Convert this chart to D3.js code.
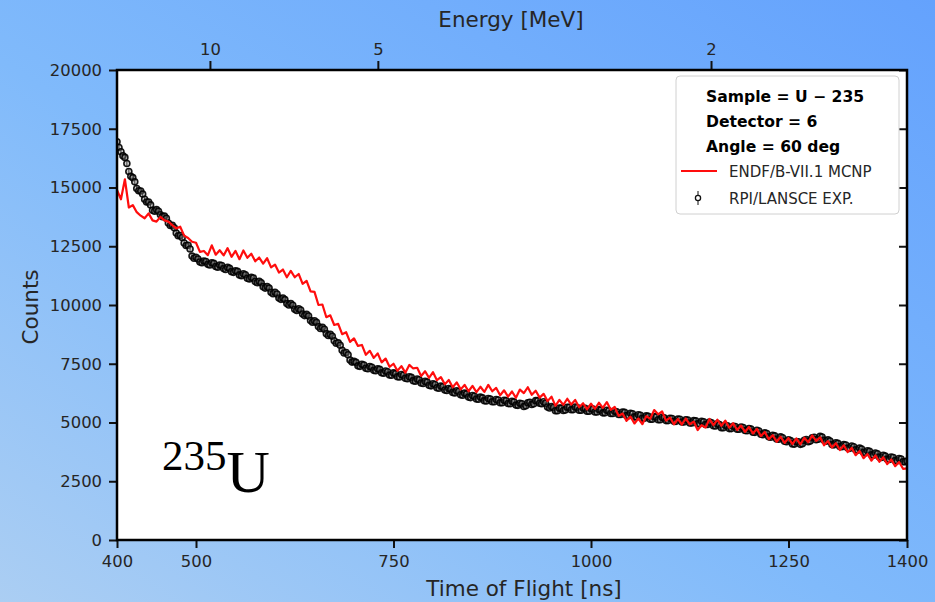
<!DOCTYPE html>
<html>
<head>
<meta charset="utf-8">
<title>U-235 TOF</title>
<script src="https://d3js.org/d3.v7.min.js"></script>
<style>
  body { margin: 0; overflow: hidden; }
  svg text { font-family: "DejaVu Sans", sans-serif; }
</style>
</head>
<body>
<svg id="chart" width="935" height="602"></svg>
<script>
// time of flight grid [ns]
const tofStart = 400, tofStep = 5;

// RPI/LANSCE experiment, counts at 400, 405, ... 1400 ns
const expCounts = [
  16950, 16520, 16280, 15680, 15420, 14960, 14850, 14500, 14380, 14030,
  14060, 13840, 13780, 13490, 13390, 13060, 12960, 12640, 12540, 12080,
  12030, 11830, 11870, 11730, 11800, 11640, 11700, 11550, 11600, 11420,
  11460, 11280, 11330, 11140, 11180, 11000, 11010, 10780, 10790, 10540,
  10540, 10300, 10300, 10060, 10060, 9820, 9840, 9620, 9600, 9340,
  9330, 9080, 9050, 8780, 8750, 8480, 8390, 8070, 7980, 7660,
  7600, 7410, 7480, 7310, 7380, 7220, 7290, 7120, 7190, 7020,
  7110, 6950, 7040, 6880, 6950, 6780, 6850, 6680, 6750, 6580,
  6650, 6480, 6550, 6380, 6450, 6280, 6350, 6180, 6250, 6080,
  6150, 6000, 6080, 5930, 6020, 5880, 5980, 5840, 5950, 5810,
  5900, 5740, 5820, 5680, 5840, 5770, 5930, 5820, 5880, 5660,
  5680, 5500, 5610, 5510, 5650, 5540, 5660, 5520, 5620, 5480,
  5590, 5450, 5550, 5410, 5520, 5380, 5480, 5340, 5450, 5300,
  5390, 5240, 5330, 5180, 5280, 5140, 5250, 5120, 5220, 5080,
  5180, 5050, 5150, 5020, 5120, 4980, 5080, 4950, 5050, 4915,
  5020, 4860, 4940, 4780, 4880, 4740, 4840, 4710, 4810, 4660,
  4740, 4590, 4670, 4500, 4560, 4390, 4460, 4300, 4390, 4200,
  4260, 4090, 4180, 4070, 4240, 4180, 4350, 4270, 4410, 4240,
  4260, 4060, 4140, 3980, 4060, 3910, 4000, 3840, 3910, 3730,
  3800, 3630, 3700, 3530, 3605, 3440, 3530, 3380, 3470, 3330,
  3360
];

// RPI/LANSCE experiment, counts at 402.5, 407.5, ... 1397.5 ns
const expCountsMid = [
  16700, 16350, 16020, 15480, 15240, 14860, 14720, 14380, 14260, 13990,
  13990, 13760, 13690, 13380, 13290, 12950, 12870, 12530, 12380, 11990,
  11960, 11800, 11850, 11700, 11770, 11610, 11680, 11510, 11560, 11390,
  11430, 11250, 11290, 11110, 11150, 10950, 10950, 10720, 10720, 10480,
  10470, 10240, 10230, 10000, 9990, 9770, 9790, 9550, 9530, 9270,
  9260, 9000, 8970, 8700, 8670, 8370, 8290, 7960, 7880, 7570,
  7560, 7390, 7450, 7290, 7350, 7200, 7260, 7100, 7160, 7010,
  7080, 6940, 7010, 6860, 6920, 6760, 6820, 6660, 6720, 6560,
  6620, 6460, 6520, 6360, 6420, 6260, 6320, 6160, 6220, 6060,
  6120, 5990, 6050, 5920, 6000, 5880, 5960, 5840, 5930, 5800,
  5870, 5730, 5800, 5710, 5860, 5800, 5930, 5800, 5820, 5620,
  5640, 5500, 5610, 5530, 5650, 5550, 5640, 5520, 5600, 5480,
  5570, 5450, 5530, 5410, 5500, 5380, 5460, 5340, 5430, 5290,
  5370, 5230, 5310, 5180, 5260, 5140, 5240, 5120, 5200, 5080,
  5170, 5050, 5140, 5020, 5100, 4980, 5070, 4950, 5030, 4920,
  4990, 4850, 4910, 4780, 4860, 4740, 4830, 4710, 4790, 4650,
  4720, 4580, 4640, 4480, 4530, 4370, 4430, 4290, 4350, 4180,
  4230, 4080, 4180, 4100, 4270, 4210, 4370, 4290, 4380, 4200,
  4210, 4050, 4110, 3970, 4040, 3900, 3970, 3820, 3870, 3710,
  3770, 3610, 3670, 3510, 3570, 3430, 3510, 3370, 3450, 3330
];

// ENDF/B-VII.1 MCNP simulation, counts every 5 ns from 400 to 1400
const mcnpCounts = [
  14900, 14500, 15350, 14150, 14250, 13950, 13800, 13690, 13900, 13600,
  13550, 13750, 13600, 13550, 13400, 13260, 13330, 12950, 12850, 12690,
  12650, 12260, 12300, 12120, 12540, 12140, 12330, 12110, 12420, 12050,
  12300, 11950, 12320, 12010, 12180, 11860, 12020, 11760, 11990, 11600,
  11720, 11380, 11510, 11180, 11450, 11180, 11320, 10900, 11030, 10580,
  10560, 10000, 10020, 9480, 9560, 9150, 9200, 8760, 8840, 8430,
  8580, 8260, 8300, 7880, 8050, 7750, 7940, 7560, 7720, 7370,
  7500, 7200, 7400, 7120, 7450, 7300, 7330, 6980, 7180, 6900,
  7140, 6800, 6930, 6630, 6810, 6500, 6710, 6410, 6600, 6330,
  6560, 6290, 6520, 6300, 6600, 6330, 6470, 6160, 6370, 6100,
  6320, 6050, 6400, 6250, 6500, 6180, 6350, 6060, 6220, 5910,
  6100, 5710, 5960, 5750, 6010, 5765, 5960, 5650, 5820, 5560,
  5800, 5580, 5840, 5625, 5870, 5540, 5660, 5280, 5380, 5070,
  5250, 4960, 5170, 4930, 5270, 5160, 5530, 5350, 5470, 5080,
  5210, 4925, 5150, 4915, 5170, 4925, 5040, 4680, 4890, 4790,
  5150, 4890, 5120, 4860, 5080, 4780, 4970, 4680, 4870, 4600,
  4810, 4530, 4730, 4420, 4600, 4290, 4460, 4180, 4395, 4130,
  4340, 4080, 4320, 4070, 4350, 4160, 4450, 4220, 4370, 4030,
  4210, 3935, 4120, 3830, 4030, 3740, 3920, 3610, 3790, 3480,
  3660, 3380, 3600, 3330, 3520, 3230, 3430, 3140, 3320, 3030,
  3050
];

const countTicks = [0, 2500, 5000, 7500, 10000, 12500, 15000, 17500, 20000];
const tofTicks = [400, 500, 750, 1000, 1250, 1400];
const energyTicks = [10, 5, 2];

const legendInfo = ["Sample = U \u2212 235", "Detector = 6", "Angle = 60 deg"];
const seriesNames = ["ENDF/B-VII.1 MCNP", "RPI/LANSCE EXP."];

// tof [ns] = flightConst / sqrt(E [MeV]) + tofOffset
const flightConst = 1622.7, tofOffset = 4.5;

const svg = d3.select("#chart");
const W = 935, H = 602;
const margin = { left: 117, right: 28, top: 70, bottom: 62 };
const pw = W - margin.left - margin.right;
const ph = H - margin.top - margin.bottom;

// background gradient
const defs = svg.append("defs");
const grad = defs.append("linearGradient").attr("id", "bg")
  .attr("x1", 0).attr("y1", 1).attr("x2", 1).attr("y2", 0);
grad.append("stop").attr("offset", "0%").attr("stop-color", "#abcef3");
grad.append("stop").attr("offset", "45%").attr("stop-color", "#80bafb");
grad.append("stop").attr("offset", "100%").attr("stop-color", "#64a2fd");
svg.append("rect").attr("width", W).attr("height", H).attr("fill", "url(#bg)");

defs.append("clipPath").attr("id", "clip")
  .append("rect").attr("width", pw).attr("height", ph);

const x = d3.scaleLinear().domain([400, 1400]).range([0, pw]);
const y = d3.scaleLinear().domain([0, 20000]).range([ph, 0]);

const g = svg.append("g").attr("transform", `translate(${margin.left},${margin.top})`);
g.append("rect").attr("width", pw).attr("height", ph).attr("fill", "white");

const plot = g.append("g").attr("clip-path", "url(#clip)");

const expData = expCounts.map((c, i) => ({ t: tofStart + i * tofStep, c }))
  .concat(expCountsMid.map((c, i) => ({ t: tofStart + tofStep / 2 + i * tofStep, c })))
  .sort((a, b) => a.t - b.t);
const mcnpData = mcnpCounts.map((c, i) => ({ t: tofStart + i * tofStep, c }));

// error bars + circles for experiment
plot.append("g").selectAll("line").data(expData).enter().append("line")
  .attr("x1", d => x(d.t)).attr("x2", d => x(d.t))
  .attr("y1", d => y(d.c - Math.sqrt(d.c))).attr("y2", d => y(d.c + Math.sqrt(d.c)))
  .attr("stroke", "#111").attr("stroke-width", 1);
plot.append("g").selectAll("circle").data(expData).enter().append("circle")
  .attr("cx", d => x(d.t)).attr("cy", d => y(d.c)).attr("r", 3)
  .attr("fill", "#888").attr("fill-opacity", 0.4)
  .attr("stroke", "#000").attr("stroke-width", 1.6)
  .attr("stroke-opacity", 0.9);

plot.append("path").datum(mcnpData)
  .attr("d", d3.line().x(d => x(d.t)).y(d => y(d.c)))
  .attr("fill", "none").attr("stroke", "#ff0d0d").attr("stroke-width", 2.2)
  .attr("stroke-linejoin", "round");

// axes
function styleAxis(sel) {
  sel.select(".domain").remove();
  sel.selectAll(".tick line").attr("stroke", "#111").attr("stroke-width", 2);
  sel.selectAll(".tick text").attr("fill", "#262626").style("font-size", "16.4px")
    .style("font-family", "DejaVu Sans");
}

g.append("g").attr("transform", `translate(0,${ph})`)
  .call(d3.axisBottom(x).tickValues(tofTicks).tickFormat(d3.format("d")).tickSize(8).tickPadding(7))
  .call(styleAxis);

g.append("g")
  .call(d3.axisLeft(y).tickValues(countTicks).tickFormat(d3.format("d")).tickSize(8).tickPadding(7))
  .call(styleAxis);

// right side inward ticks
g.append("g").attr("transform", `translate(${pw},0)`)
  .call(d3.axisRight(y).tickValues(countTicks).tickFormat("").tickSize(-8))
  .call(styleAxis);

// top energy axis
const energyToTof = e => flightConst / Math.sqrt(e) + tofOffset;
g.append("g")
  .call(d3.axisTop(x).tickValues(energyTicks.map(energyToTof))
    .tickFormat((d, i) => energyTicks[i]).tickSize(9).tickPadding(6))
  .call(styleAxis);

// frame
g.append("rect").attr("width", pw).attr("height", ph)
  .attr("fill", "none").attr("stroke", "#000").attr("stroke-width", 2.5);

// axis labels
svg.append("text").attr("x", 524).attr("y", 596).attr("text-anchor", "middle")
  .attr("fill", "#262626").style("font-size", "21.5px").text("Time of Flight [ns]");
svg.append("text").attr("x", 511).attr("y", 27).attr("text-anchor", "middle")
  .attr("fill", "#262626").style("font-size", "21.5px").text("Energy [MeV]");
svg.append("text").attr("transform", "translate(38,307) rotate(-90)").attr("text-anchor", "middle")
  .attr("fill", "#262626").style("font-size", "21.5px").text("Counts");

// 235U label
const iso = svg.append("text").attr("x", 162).attr("y", 492)
  .style("font-family", "Liberation Serif, serif").attr("fill", "#000");
iso.append("tspan").attr("dy", -22).style("font-size", "43px").text("235");
iso.append("tspan").attr("dy", 22).style("font-size", "60px").text("U");

// legend
const lg = svg.append("g").attr("transform", "translate(676,76)");
lg.append("rect").attr("width", 223).attr("height", 138).attr("rx", 4)
  .attr("fill", "white").attr("fill-opacity", 0.85).attr("stroke", "#d0d0d0").attr("stroke-width", 1);
legendInfo.forEach((s, i) => {
  lg.append("text").attr("x", 30).attr("y", 26 + i * 25)
    .style("font-size", "15.6px").style("font-weight", "bold").attr("fill", "#000").text(s);
});
lg.append("line").attr("x1", 5).attr("x2", 41).attr("y1", 95).attr("y2", 95)
  .attr("stroke", "#ff0d0d").attr("stroke-width", 2);
lg.append("line").attr("x1", 22).attr("x2", 22).attr("y1", 115).attr("y2", 129)
  .attr("stroke", "#111").attr("stroke-width", 1);
lg.append("circle").attr("cx", 22).attr("cy", 122).attr("r", 2.6)
  .attr("fill", "white").attr("stroke", "#111").attr("stroke-width", 1.3);
seriesNames.forEach((s, i) => {
  lg.append("text").attr("x", 53).attr("y", 101 + i * 27)
    .style("font-size", "15px").attr("fill", "#262626").text(s);
});
</script>
</body>
</html>
